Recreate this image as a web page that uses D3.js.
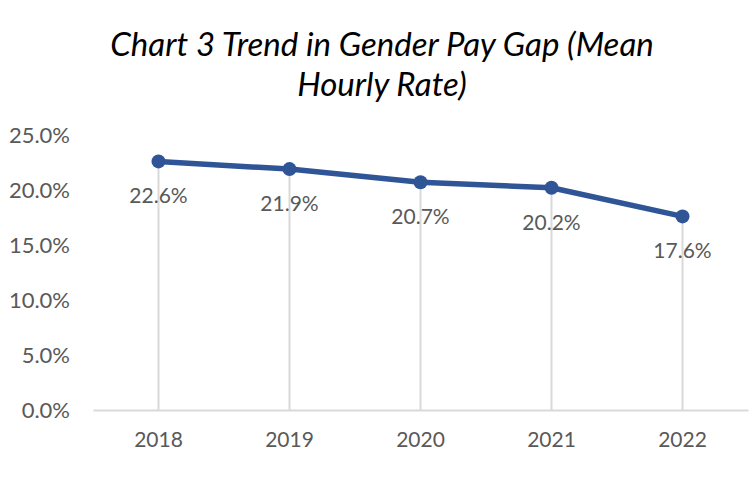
<!DOCTYPE html>
<html><head><meta charset="utf-8">
<script src="https://cdn.jsdelivr.net/npm/d3@7"></script>
<style>body{margin:0;background:#fff}svg{display:block}</style>
</head><body>
<svg id="c" width="750" height="500"></svg>
<script>
const categories = ["2018","2019","2020","2021","2022"];
const values = [22.6, 21.9, 20.7, 20.2, 17.6];
const yTicks = [0, 5, 10, 15, 20, 25];
const titleLines = ["Chart 3 Trend in Gender Pay Gap (Mean", "Hourly Rate)"];

const svg = d3.select("#c");
const font = "Lato, 'Open Sans', sans-serif";
const x = d3.scaleBand().domain(categories).range([93, 748]);
const y = d3.scaleLinear().domain([0, 25]).range([410, 135]);
const cx = d => x(d) + x.bandwidth()/2;

svg.append("g").selectAll("text").data(titleLines).join("text")
  .attr("x", 382).attr("y", (d,i)=>56 + i*40)
  .attr("text-anchor","middle").attr("font-family",font).attr("font-style","italic")
  .attr("font-size",33).attr("fill","#000").text(d=>d);

// y axis labels
const ya = svg.append("g").attr("transform","translate(70,0)")
  .call(d3.axisLeft(y).tickValues(yTicks).tickFormat(d=>d.toFixed(1)+"%").tickSize(0).tickPadding(0));
ya.select(".domain").remove();
ya.selectAll("text").attr("font-family",font).attr("font-size",22).attr("fill","#595959");

// drop lines
svg.append("g").selectAll("line").data(categories).join("line")
  .attr("x1",cx).attr("x2",cx).attr("y1",(d,i)=>y(values[i])).attr("y2",y(0))
  .attr("stroke","#d9d9d9").attr("stroke-width",2);

// x axis
const xa = svg.append("g").attr("transform",`translate(0,${y(0)})`)
  .call(d3.axisBottom(x).tickSize(0).tickPadding(22));
xa.select(".domain").attr("stroke","#d9d9d9").attr("stroke-width",2);
xa.selectAll("text").attr("font-family",font).attr("font-size",21).attr("fill","#595959");

const pts = categories.map((c,i)=>({c, v:values[i]}));
svg.append("path").datum(pts)
  .attr("d", d3.line().x(d=>cx(d.c)).y(d=>y(d.v)))
  .attr("fill","none").attr("stroke","#2F5597").attr("stroke-width",5.5).attr("stroke-linejoin","round");
svg.append("g").selectAll("circle").data(pts).join("circle")
  .attr("cx",d=>cx(d.c)).attr("cy",d=>y(d.v)).attr("r",7).attr("fill","#2F5597");
svg.append("g").selectAll("text").data(pts).join("text")
  .attr("x",d=>cx(d.c)).attr("y",d=>y(d.v)+42).attr("text-anchor","middle")
  .attr("font-family",font).attr("font-size",21).attr("fill","#595959")
  .text(d=>d.v.toFixed(1)+"%");
</script>
</body></html>
